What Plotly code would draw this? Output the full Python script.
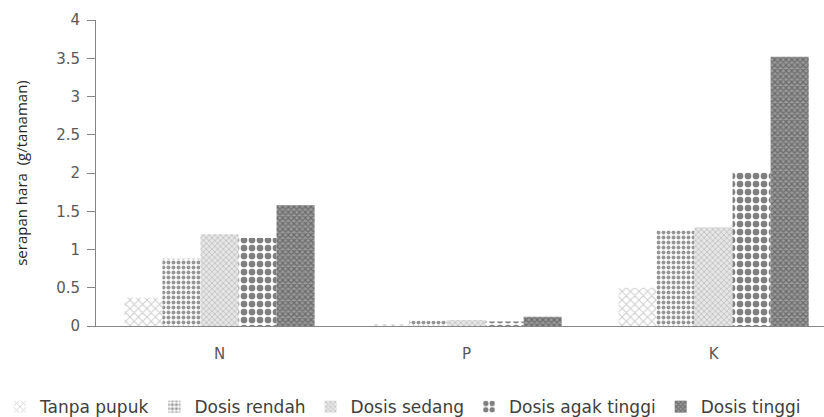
import plotly.graph_objects as go

categories = ["N", "P", "K"]
series_names = ["Tanpa pupuk", "Dosis rendah", "Dosis sedang", "Dosis agak tinggi", "Dosis tinggi"]
tanpa_pupuk = [0.37, 0.02, 0.50]
dosis_rendah = [0.88, 0.07, 1.25]
dosis_sedang = [1.20, 0.08, 1.29]
dosis_agak_tinggi = [1.15, 0.06, 2.01]
dosis_tinggi = [1.58, 0.12, 3.52]
y_ticks = [0, 0.5, 1, 1.5, 2, 2.5, 3, 3.5, 4]
y_tick_labels = ["0", "0.5", "1", "1.5", "2", "2.5", "3", "3.5", "4"]

values = [tanpa_pupuk, dosis_rendah, dosis_sedang, dosis_agak_tinggi, dosis_tinggi]
patterns = [
    dict(shape="x", fgcolor="#9a9a9a", bgcolor="white", size=6, solidity=0.3),
    dict(shape=".", fgcolor="#2e2e2e", bgcolor="white", size=5, solidity=0.5),
    dict(shape="x", fgcolor="#a0a0a0", bgcolor="#e6e6e6", size=4, solidity=0.4),
    dict(shape=".", fgcolor="#000000", bgcolor="white", size=8, solidity=0.55),
    dict(shape="x", fgcolor="#3a3a3a", bgcolor="#9a9a9a", size=4, solidity=0.5),
]

fig = go.Figure()
for name, vals, pat in zip(series_names, values, patterns):
    fig.add_trace(go.Bar(
        x=categories, y=vals, name=name,
        marker=dict(color="white", pattern=pat, line=dict(width=0)),
    ))

axis_col = "#868686"
fig.update_layout(
    width=824, height=417,
    margin=dict(l=96, r=0, t=20, b=91, autoexpand=False),
    paper_bgcolor="white", plot_bgcolor="white",
    barmode="group", bargap=0.23, bargroupgap=0,
    font=dict(family="DejaVu Sans", color="#595959"),
    showlegend=True,
    legend=dict(
        orientation="h", x=-0.132, xanchor="left", y=-0.265, yanchor="middle",
        font=dict(family="DejaVu Sans", size=17, color="#404040"),
        itemwidth=30, bgcolor="rgba(0,0,0,0)",
    ),
    xaxis=dict(
        type="category", range=[-0.5, 2.447], showline=True, linecolor=axis_col,
        linewidth=1, ticks="", showgrid=False, zeroline=False,
        tickfont=dict(family="DejaVu Sans", size=15, color="#595959"),
        ticklabelstandoff=14,
    ),
    yaxis=dict(
        range=[0, 4], tickvals=y_ticks, ticktext=y_tick_labels,
        showline=True, linecolor=axis_col, linewidth=1,
        ticks="outside", ticklen=8, tickcolor=axis_col,
        showgrid=False, zeroline=False,
        tickfont=dict(family="DejaVu Sans", size=15, color="#595959"),
        ticklabelstandoff=4,
        title=dict(text="serapan hara  (g/tanaman)", standoff=24,
                   font=dict(family="Open Sans", size=15, color="#262626")),
    ),
)

fig.write_html("out.html")
